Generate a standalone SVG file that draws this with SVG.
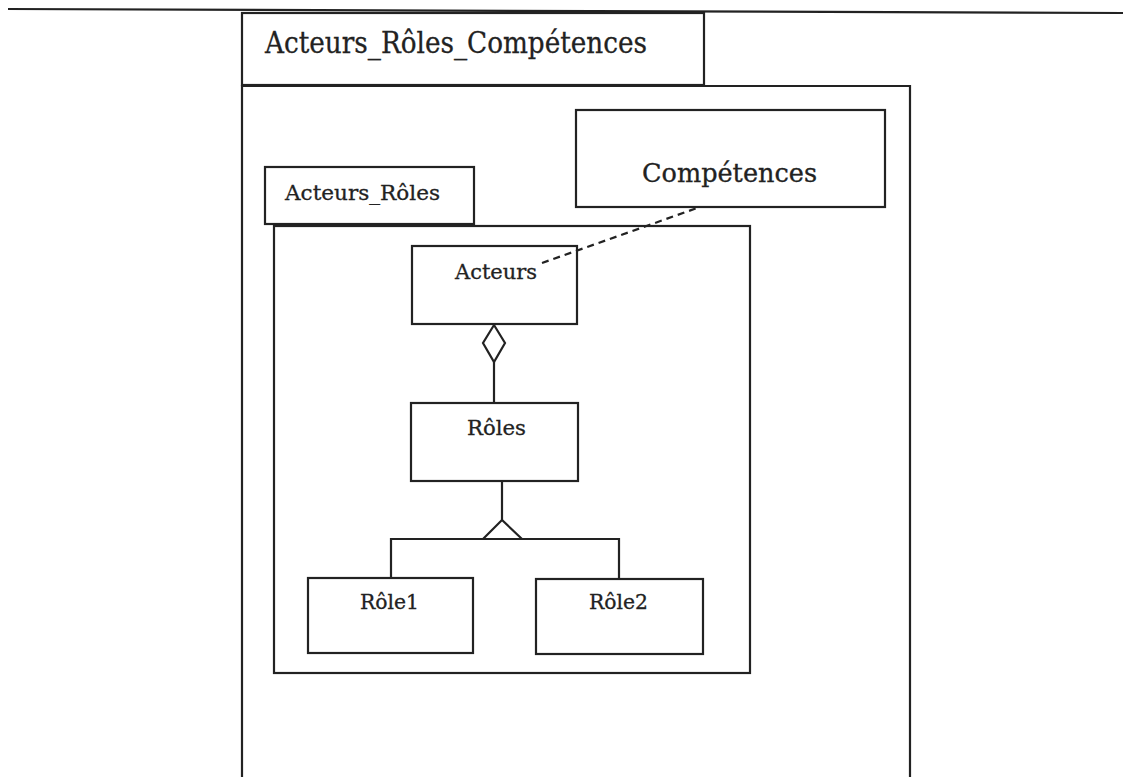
<svg xmlns="http://www.w3.org/2000/svg" width="1123" height="777" viewBox="0 0 1123 777">
  <style>
    .box { fill: #fff; stroke: #222; stroke-width: 2.2; }
    .ln { fill: none; stroke: #222; stroke-width: 2.2; }
    .dash { fill: none; stroke: #222; stroke-width: 2.2; stroke-dasharray: 7 5; }
    .t { font-family: "DejaVu Serif", "Liberation Serif", serif; fill: #222; stroke: #222; stroke-width: 0.3; }
  </style>
  <rect width="1123" height="777" fill="#fff"/>

  <!-- page rule -->
  <line class="ln" x1="8" y1="9" x2="1123" y2="13"/>

  <!-- outer package -->
  <g id="pkg-acteurs-roles-competences">
    <rect class="box" x="242" y="13" width="462" height="72"/>
    <path class="ln" d="M242 85 V790 M242 86 H910 V790"/>
    <text class="t" x="265" y="53" font-size="30" textLength="382" lengthAdjust="spacingAndGlyphs">Acteurs_Rôles_Compétences</text>
  </g>

  <!-- Compétences package -->
  <g id="pkg-competences">
    <rect class="box" x="576" y="110" width="309" height="97"/>
    <text class="t" x="642" y="182" font-size="26" textLength="175" lengthAdjust="spacingAndGlyphs">Compétences</text>
  </g>

  <!-- inner package -->
  <g id="pkg-acteurs-roles">
    <rect class="box" x="265" y="167" width="209" height="57"/>
    <rect class="box" x="274" y="226" width="476" height="447"/>
    <text class="t" x="285" y="200" font-size="21" textLength="155" lengthAdjust="spacingAndGlyphs">Acteurs_Rôles</text>
  </g>

  <g id="cls-acteurs">
    <rect class="box" x="412" y="246" width="165" height="78"/>
    <text class="t" x="455" y="279" font-size="20" textLength="82" lengthAdjust="spacingAndGlyphs">Acteurs</text>
  </g>

  <g id="cls-roles">
    <rect class="box" x="411" y="403" width="167" height="78"/>
    <text class="t" x="467" y="435" font-size="20" textLength="59" lengthAdjust="spacingAndGlyphs">Rôles</text>
  </g>

  <g id="cls-role1">
    <rect class="box" x="308" y="578" width="165" height="75"/>
    <text class="t" x="360" y="609" font-size="20" textLength="59" lengthAdjust="spacingAndGlyphs">Rôle1</text>
  </g>

  <g id="cls-role2">
    <rect class="box" x="536" y="579" width="167" height="75"/>
    <text class="t" x="589" y="609" font-size="20" textLength="59" lengthAdjust="spacingAndGlyphs">Rôle2</text>
  </g>

  <!-- connectors -->
  <g id="connectors">
    <!-- dependency: Acteurs to Compétences -->
    <line class="dash" x1="542" y1="263" x2="700" y2="207"/>
    <!-- aggregation: Acteurs aggregates Rôles -->
    <path class="box" d="M494 325 L505 343 L494 362 L483 343 Z"/>
    <line class="ln" x1="494" y1="362" x2="494" y2="403"/>
    <!-- generalisation: Rôle1, Rôle2 specialise Rôles -->
    <line class="ln" x1="502" y1="481" x2="502" y2="520"/>
    <path class="ln" d="M483 539 L502 520 L522 539"/>
    <path class="ln" d="M391 578 V539 H619 V579"/>
  </g>
</svg>
